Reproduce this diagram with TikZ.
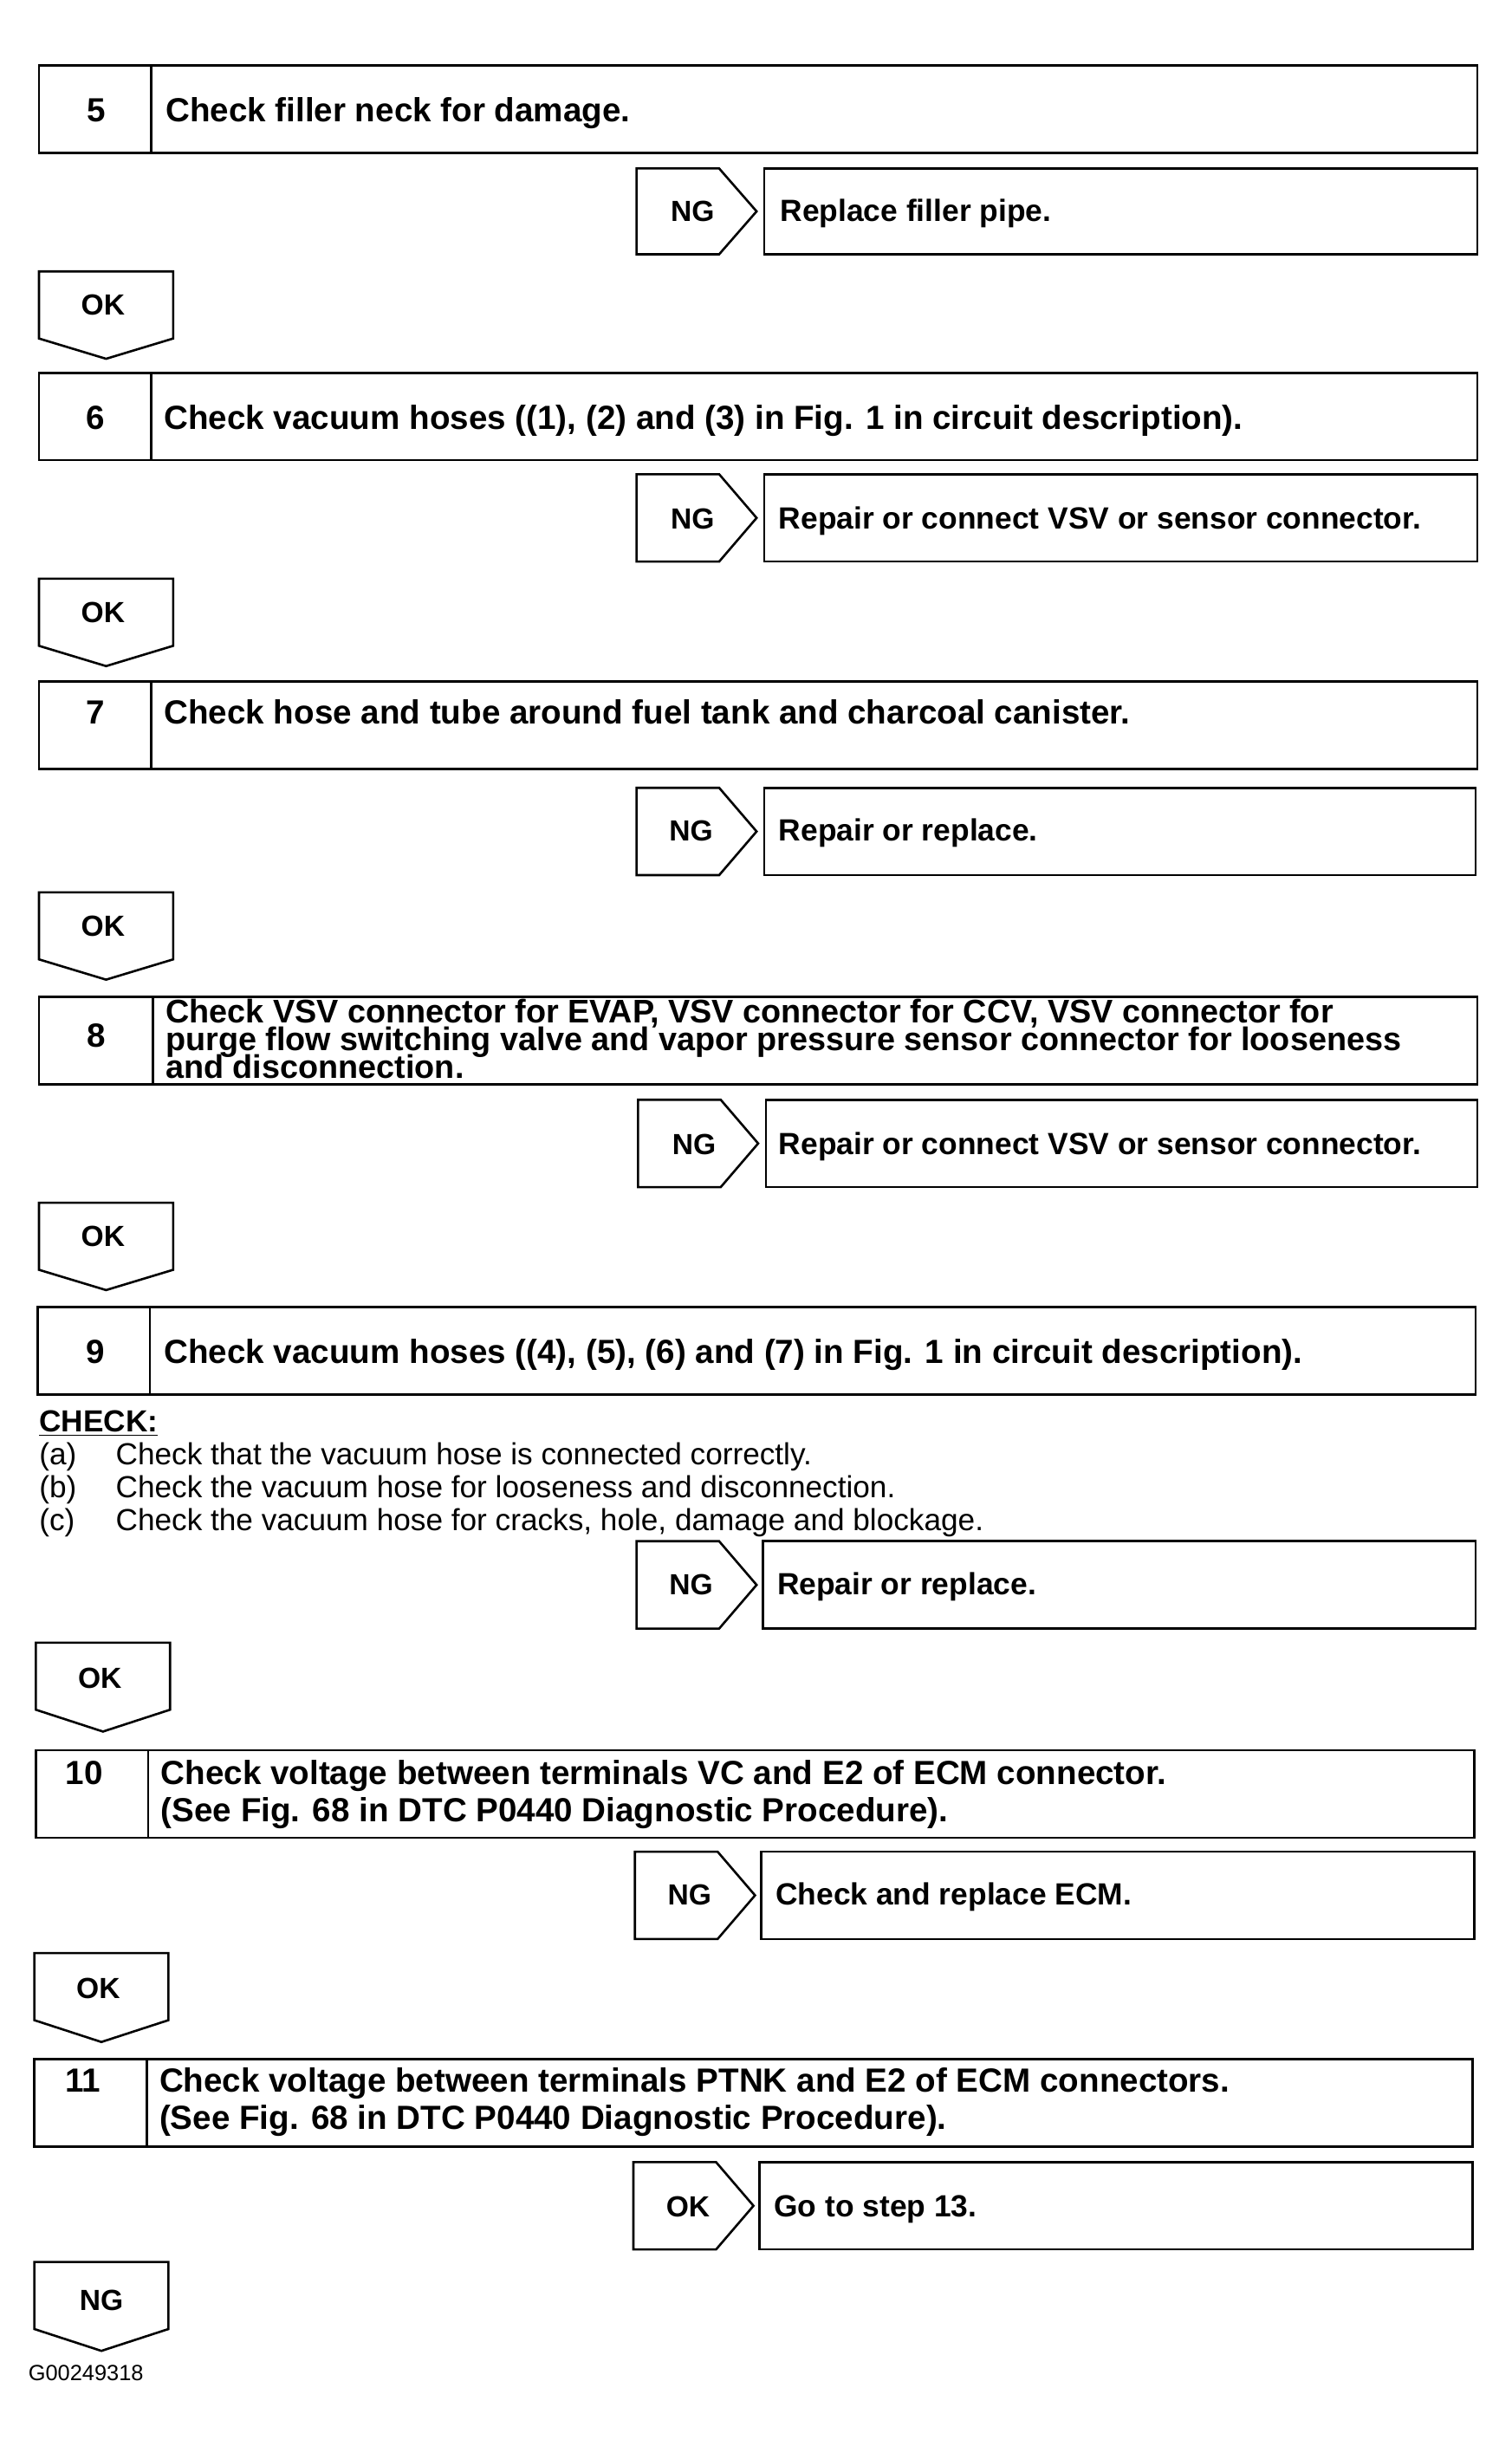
\documentclass[tikz,border=0pt]{standalone}
\usepackage{fontspec}
\setmainfont{Liberation Sans}
\begin{document}
\begin{tikzpicture}[x=0.9004pt,y=-0.9004pt,
  frame/.style={draw=black,line width=1.3pt,line join=miter},
  steptxt/.style={anchor=base west,inner sep=0pt,font=\fontsize{19.3}{20}\selectfont\bfseries},
  densetxt/.style={anchor=base west,inner sep=0pt,font=\fontsize{18.9}{19}\selectfont\bfseries},
  numtxt/.style={anchor=base,inner sep=0pt,font=\fontsize{19.3}{20}\selectfont\bfseries},
  restxt/.style={anchor=base west,inner sep=0pt,font=\fontsize{17.7}{20}\selectfont\bfseries},
  tagtxt/.style={anchor=base,inner sep=0pt,font=\fontsize{16.8}{20}\selectfont\bfseries},
  chktxt/.style={anchor=base west,inner sep=0pt,font=\fontsize{17.6}{20}\selectfont}]
\useasboundingbox[fill=white] (0,0) rectangle (969,1568);

% ---------- Step 5
\draw[frame] (25,42) rectangle (947,98); \draw[frame] (97,42) -- (97,98);
\node[numtxt] (n5) at (62,78) {5};
\node[steptxt] (t5) at (106,78) {Check filler neck for damage.};
\draw[frame] (408,108) -- (461,108) -- (485,135.5) -- (461,163) -- (408,163) -- cycle;
\node[tagtxt] (g5) at (444,142) {NG};
\draw[frame] (490,108) rectangle (947,163);
\node[restxt] (r5) at (500,142) {Replace filler pipe.};
\draw[frame] (25,174) -- (111,174) -- (111,217) -- (68,230) -- (25,217) -- cycle;
\node[tagtxt] (k5) at (66,202) {OK};

% ---------- Step 6
\draw[frame] (25,239) rectangle (947,295); \draw[frame] (97,239) -- (97,295);
\node[numtxt] (n6) at (61,275) {6};
\node[steptxt] (t6) at (105,275) {Check vacuum hoses ((1), (2) and (3) in Fig. 1 in circuit description).};
\draw[frame] (408,304) -- (461,304) -- (485,332) -- (461,360) -- (408,360) -- cycle;
\node[tagtxt] (g6) at (444,339) {NG};
\draw[frame] (490,304) rectangle (947,360);
\node[restxt] (r6) at (499,339) {Repair or connect VSV or sensor connector.};
\draw[frame] (25,371) -- (111,371) -- (111,414) -- (68,427) -- (25,414) -- cycle;
\node[tagtxt] (k6) at (66,399) {OK};

% ---------- Step 7
\draw[frame] (25,437) rectangle (947,493); \draw[frame] (97,437) -- (97,493);
\node[numtxt] (n7) at (61,464) {7};
\node[steptxt] (t7) at (105,464) {Check hose and tube around fuel tank and charcoal canister.};
\draw[frame] (408,505) -- (461,505) -- (485,533) -- (461,561) -- (408,561) -- cycle;
\node[tagtxt] (g7) at (443,539) {NG};
\draw[frame] (490,505) rectangle (946,561);
\node[restxt] (r7) at (499,539) {Repair or replace.};
\draw[frame] (25,572) -- (111,572) -- (111,615) -- (68,628) -- (25,615) -- cycle;
\node[tagtxt] (k7) at (66,600) {OK};

% ---------- Step 8
\draw[frame] (25,639) rectangle (947,695); \draw[frame] (98,639) -- (98,695);
\node[numtxt] (n8) at (62,671) {8};
\node[densetxt] (t8a) at (106,655.5) {Check VSV connector for EVAP, VSV connector for CCV, VSV connector for};
\node[densetxt] (t8b) at (106,673.5) {purge flow switching valve and vapor pressure sensor connector for looseness};
\node[densetxt] (t8c) at (106,691.5) {and disconnection.};
\draw[frame] (409,705) -- (462,705) -- (486,733) -- (462,761) -- (409,761) -- cycle;
\node[tagtxt] (g8) at (445,740) {NG};
\draw[frame] (491,705) rectangle (947,761);
\node[restxt] (r8) at (499,740) {Repair or connect VSV or sensor connector.};
\draw[frame] (25,771) -- (111,771) -- (111,814) -- (68,827) -- (25,814) -- cycle;
\node[tagtxt] (k8) at (66,799) {OK};

% ---------- Step 9
\draw[frame] (24,838) rectangle (946,894); \draw[frame] (96,838) -- (96,894);
\node[numtxt] (n9) at (61,874) {9};
\node[steptxt] (t9) at (105,874) {Check vacuum hoses ((4), (5), (6) and (7) in Fig. 1 in circuit description).};
\node[chktxt,font=\fontsize{17.6}{20}\selectfont\bfseries] (chk) at (25,918) {\underline{CHECK:}};
\node[chktxt] (la) at (25,939) {(a)};
\node[chktxt] (ca) at (74,939) {Check that the vacuum hose is connected correctly.};
\node[chktxt] (lb) at (25,960) {(b)};
\node[chktxt] (cb) at (74,960) {Check the vacuum hose for looseness and disconnection.};
\node[chktxt] (lc) at (25,981) {(c)};
\node[chktxt] (cc) at (74,981) {Check the vacuum hose for cracks, hole, damage and blockage.};
\draw[frame] (408,988) -- (461,988) -- (485,1016) -- (461,1044) -- (408,1044) -- cycle;
\node[tagtxt] (g9) at (443,1022) {NG};
\draw[frame] (489,988) rectangle (946,1044);
\node[restxt] (r9) at (498,1022) {Repair or replace.};
\draw[frame] (23,1053) -- (109,1053) -- (109,1096) -- (66,1110) -- (23,1096) -- cycle;
\node[tagtxt] (k9) at (64,1082) {OK};

% ---------- Step 10
\draw[frame] (23,1122) rectangle (945,1178); \draw[frame] (95,1122) -- (95,1178);
\node[numtxt] (n10) at (54,1144) {10};
\node[steptxt] (t10a) at (103,1144) {Check voltage between terminals VC and E2 of ECM connector.};
\node[steptxt] (t10b) at (103,1168) {(See Fig. 68 in DTC P0440 Diagnostic Procedure).};
\draw[frame] (407,1187) -- (460,1187) -- (484,1215) -- (460,1243) -- (407,1243) -- cycle;
\node[tagtxt] (g10) at (442,1221) {NG};
\draw[frame] (488,1187) rectangle (945,1243);
\node[restxt] (r10) at (497,1221) {Check and replace ECM.};
\draw[frame] (22,1252) -- (108,1252) -- (108,1295) -- (65,1309) -- (22,1295) -- cycle;
\node[tagtxt] (k10) at (63,1281) {OK};

% ---------- Step 11
\draw[frame] (22,1320) rectangle (944,1376); \draw[frame] (94,1320) -- (94,1376);
\node[numtxt] (n11) at (53,1341) {11};
\node[steptxt] (t11a) at (102,1341) {Check voltage between terminals PTNK and E2 of ECM connectors.};
\node[steptxt] (t11b) at (102,1365) {(See Fig. 68 in DTC P0440 Diagnostic Procedure).};
\draw[frame] (406,1386) -- (459,1386) -- (483,1414) -- (459,1442) -- (406,1442) -- cycle;
\node[tagtxt] (g11) at (441,1421) {OK};
\draw[frame] (487,1386) rectangle (944,1442);
\node[restxt] (r11) at (496,1421) {Go to step 13.};
\draw[frame] (22,1450) -- (108,1450) -- (108,1493) -- (65,1507) -- (22,1493) -- cycle;
\node[tagtxt] (k11) at (65,1481) {NG};

\node[anchor=base west,inner sep=0pt,font=\fontsize{12.7}{14}\selectfont] (code) at (18,1526) {G00249318};
\end{tikzpicture}
\end{document}
